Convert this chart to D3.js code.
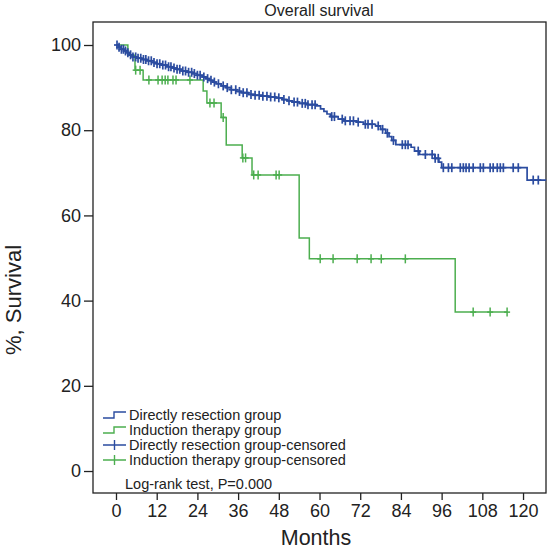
<!DOCTYPE html>
<html><head><meta charset="utf-8">
<script src="https://cdn.jsdelivr.net/npm/d3@7"></script>
<style>body{margin:0;background:#fff}svg{display:block}text{font-family:"Liberation Sans",Arial,Helvetica,sans-serif}</style>
</head><body><svg id="c" width="549" height="549"></svg>
<script>
// ---- data ----
const xTicks = [0,12,24,36,48,60,72,84,96,108,120];
const yTicks = [0,20,40,60,80,100];
const blueTimes = [0,0.8,1.5,2.3,3,4,5,6,7.5,9,10.5,12,13.5,15,16.5,18,19.5,21,22.5,24,25.5,26.5,27.5,28.5,29.5,31,32.5,34,35.5,37,39,41,43,45,47,49,50.5,52,54,56.5,59,60.3,61.3,62.2,63.2,65.5,67,71,73,76.5,78,79.5,80.5,81.3,82.5,87,88,89.5,94,95.2,96,121.2];
const blueSurv  = [100,99.5,99.0,98.6,98.2,97.7,97.2,96.9,96.6,96.3,95.9,95.6,95.3,94.9,94.6,94.3,93.9,93.6,93.3,92.9,92.5,92.1,91.7,91.3,90.9,90.4,90.0,89.5,89.1,88.8,88.4,88.2,88.0,87.8,87.6,87.2,86.9,86.6,86.3,86.0,85.7,85.0,84.4,83.8,83.2,82.6,82.2,81.9,81.4,81.0,80.2,79.3,78.5,77.6,76.6,76.0,75.1,74.3,73.4,72.5,71.2,68.3];
const blueEnd = 126.8;
const blueCensor = [0.3,0.9,1.6,2.2,2.8,3.5,4.3,5.0,5.8,6.5,7.3,8.1,8.8,9.6,10.4,11.2,12.1,12.9,13.8,14.6,15.5,16.2,17.1,18,18.8,19.7,20.5,21.4,22.3,23.1,24,24.8,25.9,27,28,29,30.2,31.6,32.8,34,35.3,36.4,37.5,38.6,39.8,41,42.2,43.3,44.5,45.6,46.8,48,49.5,51,52.5,53.5,54.9,55.8,56.6,57.8,58.7,63.6,64.4,66.7,67.6,69,70,71.4,73.5,74.3,75.5,77.3,78.6,80,81.8,84.4,85.3,86.1,89.1,91.2,93.2,94.1,95,96.5,98,99,101.5,102.4,103.2,104.1,105.3,107.4,108.3,110.3,111.2,112.4,113.3,114.2,117.1,118.6,123,124.5];
const greenTimes = [0,3.5,5.6,8,25.7,26.8,31,32.5,37.2,40.1,54,57,100];
const greenSurv  = [100,97.6,94.1,91.8,89.2,86.4,83,76.5,73.5,69.5,54.7,49.8,37.3];
const greenEnd = 115.3;
const greenCensor = [5.8,7.1,9.7,12.4,13.6,14.5,15.3,16.8,17.7,21.8,27.7,28.9,31.6,37.4,38.2,40.6,41.9,47.2,48.1,60.2,64,71.1,75.2,78.2,85.3,105.3,110.3,115.3];
const legendLabels = ["Directly resection group","Induction therapy group","Directly resection group-censored","Induction therapy group-censored"];
const colors = {blue:"#2b4ca0", green:"#4cae4f"};

// ---- layout ----
const svg = d3.select("#c");
const L=93, R=546, T=22, B=493;
const x = d3.scaleLinear().domain([-6.78,126.77]).range([L,R]);
const y = d3.scaleLinear().domain([-5.16,105.4]).range([B,T]);

svg.append("text").attr("x",319).attr("y",16).attr("text-anchor","middle").attr("font-size",16).attr("fill","#222").text("Overall survival");

// axes
const xa = svg.append("g").attr("transform",`translate(0,${B})`)
  .call(d3.axisBottom(x).tickValues(xTicks).tickSize(7).tickSizeOuter(0).tickPadding(4));
xa.select(".domain").remove();
xa.selectAll("text").attr("font-size",18).attr("fill","#222").attr("font-family","Liberation Sans, Arial, sans-serif");
xa.selectAll("line").attr("stroke","#222").attr("stroke-width",1.3);
const ya = svg.append("g").attr("transform",`translate(${L},0)`)
  .call(d3.axisLeft(y).tickValues(yTicks).tickSize(9).tickSizeOuter(0).tickPadding(3));
ya.select(".domain").remove();
ya.selectAll("text").attr("font-size",18).attr("fill","#222").attr("font-family","Liberation Sans, Arial, sans-serif");
ya.selectAll("line").attr("stroke","#222").attr("stroke-width",1.3);

svg.append("rect").attr("x",L).attr("y",T).attr("width",R-L).attr("height",B-T)
  .attr("fill","none").attr("stroke","#222").attr("stroke-width",1.3);

svg.append("text").attr("x",316).attr("y",545).attr("text-anchor","middle").attr("font-size",21.5).attr("fill","#222").text("Months");
svg.append("text").attr("transform","translate(21,300) rotate(-90)").attr("text-anchor","middle").attr("font-size",22).attr("fill","#222").text("%, Survival");

// curves
function stepData(times, surv, end){
  const pts = times.map((t,i)=>[t,surv[i]]);
  pts.push([end, surv[surv.length-1]]);
  return pts;
}
function survAt(times, surv, t){
  let v = surv[0];
  for(let i=0;i<times.length;i++){ if(times[i]<=t) v=surv[i]; }
  return v;
}
const line = d3.line().x(d=>x(d[0])).y(d=>y(d[1])).curve(d3.curveStepAfter);
function drawGroup(times,surv,end,cens,col,w){
  svg.append("path").datum(stepData(times,surv,end)).attr("d",line)
    .attr("fill","none").attr("stroke",col).attr("stroke-width",w);
  const g = svg.append("g").attr("stroke",col).attr("stroke-width",w);
  cens.forEach(t=>{
    const cx=x(t), cy=y(survAt(times,surv,t));
    g.append("line").attr("x1",cx).attr("x2",cx).attr("y1",cy-4.5).attr("y2",cy+4.5);
    g.append("line").attr("x1",cx-3).attr("x2",cx+3).attr("y1",cy).attr("y2",cy);
  });
}
drawGroup(greenTimes,greenSurv,greenEnd,greenCensor,colors.green,1.5);
drawGroup(blueTimes,blueSurv,blueEnd,blueCensor,colors.blue,1.7);

// legend
const legY=[415,430,445,460];
const legCol=[colors.blue,colors.green,colors.blue,colors.green];
legendLabels.forEach((lab,i)=>{
  const yy=legY[i];
  if(i<2){
    svg.append("path").attr("d",`M103,${yy+3}H114V${yy-3}H126`).attr("fill","none").attr("stroke",legCol[i]).attr("stroke-width",1.4);
  } else {
    svg.append("path").attr("d",`M103,${yy}H126M114.5,${yy-5}V${yy+5}`).attr("fill","none").attr("stroke",legCol[i]).attr("stroke-width",1.4);
  }
  svg.append("text").attr("x",129).attr("y",yy+5).attr("font-size",14.5).attr("fill","#222").text(lab);
});
svg.append("text").attr("x",125).attr("y",489).attr("font-size",14.5).attr("fill","#222").text("Log-rank test, P=0.000");
</script></body></html>
